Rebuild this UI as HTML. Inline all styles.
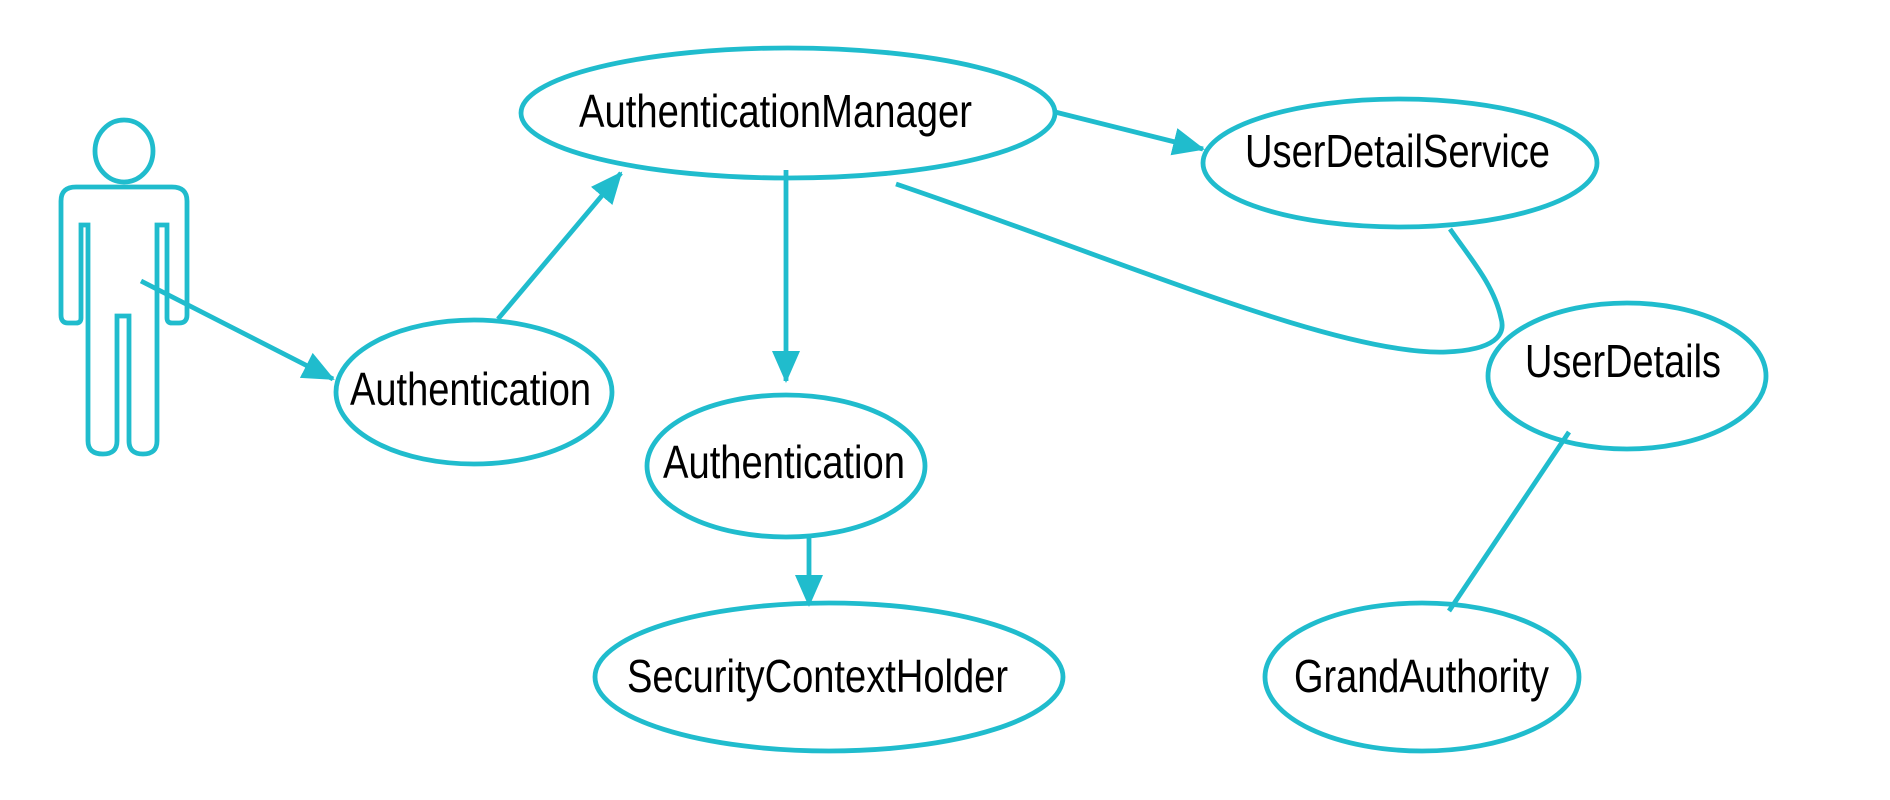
<!DOCTYPE html>
<html><head><meta charset="utf-8"><style>html,body{margin:0;padding:0;background:#fff;}svg{display:block}</style></head>
<body>
<svg width="1890" height="800" viewBox="0 0 1890 800" xmlns="http://www.w3.org/2000/svg">
<defs>
<marker id="ah" markerWidth="8" markerHeight="8" refX="7" refY="4" orient="auto" markerUnits="userSpaceOnUse" viewBox="0 0 8 8" >
<path d="M0,0.5 L8,4 L0,7.5 Z" fill="#20bccd"/>
</marker>
<marker id="ah2" markerWidth="32" markerHeight="30" refX="30" refY="15" orient="auto" markerUnits="userSpaceOnUse">
<path d="M0,1 L32,15 L0,29 Z" fill="#20bccd"/>
</marker>
</defs>
<g fill="none" stroke="#20bccd" stroke-width="4.8">
<ellipse cx="124" cy="151" rx="29" ry="31"/>
<path d="M81,225 L81,318 Q81,323 76,323 L68,323 Q61,323 61,315 L61,201 Q61,187 76,187 L172,187 Q187,187 187,201 L187,315 Q187,323 179,323 L172,323 Q167,323 167,318 L167,225 L157,225 L157,441 Q157,454 143,454 Q129,454 129,441 L129,316 L117,316 L117,441 Q117,454 103,454 Q88,454 88,441 L88,225 Z"/>
<ellipse cx="788" cy="113" rx="267" ry="65"/>
<ellipse cx="474" cy="392" rx="138" ry="72"/>
<ellipse cx="786" cy="466" rx="139" ry="71"/>
<ellipse cx="829" cy="677" rx="234" ry="74"/>
<ellipse cx="1400" cy="163" rx="197" ry="64"/>
<ellipse cx="1627" cy="376" rx="139" ry="73"/>
<ellipse cx="1422" cy="677" rx="157" ry="74"/>
<line x1="141" y1="281" x2="333" y2="379" marker-end="url(#ah2)"/>
<line x1="498" y1="319" x2="621" y2="173" marker-end="url(#ah2)"/>
<line x1="786" y1="170" x2="786" y2="381" marker-end="url(#ah2)"/>
<line x1="809" y1="536" x2="809" y2="605" marker-end="url(#ah2)"/>
<line x1="1055" y1="112" x2="1203" y2="149" marker-end="url(#ah2)"/>
<line x1="1569" y1="432" x2="1449" y2="611"/>
<path d="M896,184 C1120,260 1340,356 1446,352 C1495,350 1506,335 1501,318 C1494,285 1470,258 1450,229"/>
</g>
<g font-family="Liberation Sans, Arial, sans-serif" font-size="46" fill="#000" text-anchor="start">
<text x="579" y="127" textLength="393" lengthAdjust="spacingAndGlyphs">AuthenticationManager</text>
<text x="350" y="405" textLength="241" lengthAdjust="spacingAndGlyphs">Authentication</text>
<text x="663" y="478" textLength="242" lengthAdjust="spacingAndGlyphs">Authentication</text>
<text x="627" y="692" textLength="381" lengthAdjust="spacingAndGlyphs">SecurityContextHolder</text>
<text x="1245" y="167" textLength="305" lengthAdjust="spacingAndGlyphs">UserDetailService</text>
<text x="1525" y="377" textLength="196" lengthAdjust="spacingAndGlyphs">UserDetails</text>
<text x="1294" y="692" textLength="255" lengthAdjust="spacingAndGlyphs">GrandAuthority</text>
</g>
</svg>
</body></html>
